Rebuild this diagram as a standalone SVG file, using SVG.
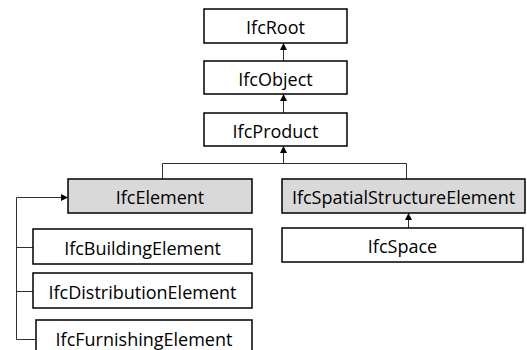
<svg xmlns="http://www.w3.org/2000/svg" width="527" height="350" viewBox="0 0 527 350">
  <style>
    .box { fill: #ffffff; stroke: #000000; stroke-width: 1.5; }
    .abstract { fill: #d9d9d9; }
    .label { font-family: "Open Sans", "Noto Sans", sans-serif; font-size: 18px; fill: #000000; text-anchor: middle; dominant-baseline: central; }
    .link { fill: none; stroke: #303030; stroke-width: 1; }
  </style>
  <defs>
    <marker id="arrow" viewBox="0 0 8 8" refX="8" refY="4" markerWidth="7" markerHeight="7" orient="auto" markerUnits="userSpaceOnUse">
      <path d="M0,0 L8,4 L0,8 Z" fill="#000000"/>
    </marker>
  </defs>

  <g id="connectors">
    <line class="link" x1="283.5" y1="61" x2="283.5" y2="43" marker-end="url(#arrow)"/>
    <line class="link" x1="283.5" y1="113" x2="283.5" y2="94" marker-end="url(#arrow)"/>
    <line class="link" x1="283.5" y1="163.5" x2="283.5" y2="146" marker-end="url(#arrow)"/>
    <polyline class="link" points="162.5,179 162.5,163.5 406.5,163.5 406.5,179"/>
    <line class="link" x1="408.5" y1="228" x2="408.5" y2="213" marker-end="url(#arrow)"/>
    <polyline class="link" points="36,339.5 16.5,339.5 16.5,197.5 68,197.5" marker-end="url(#arrow)"/>
    <line class="link" x1="16.5" y1="247.5" x2="33" y2="247.5"/>
    <line class="link" x1="16.5" y1="291.5" x2="33" y2="291.5"/>
  </g>

  <g id="IfcRoot">
    <rect class="box" x="204" y="9" width="143" height="34"/>
    <text class="label" x="275.5" y="27">IfcRoot</text>
  </g>
  <g id="IfcObject">
    <rect class="box" x="204" y="61" width="143" height="33"/>
    <text class="label" x="275.5" y="78.5">IfcObject</text>
  </g>
  <g id="IfcProduct">
    <rect class="box" x="204" y="113" width="143" height="33"/>
    <text class="label" x="275.5" y="130.5">IfcProduct</text>
  </g>
  <g id="IfcElement">
    <rect class="box abstract" x="68" y="179" width="184" height="34"/>
    <text class="label" x="160" y="197">IfcElement</text>
  </g>
  <g id="IfcSpatialStructureElement">
    <rect class="box abstract" x="282" y="179" width="243" height="34"/>
    <text class="label" x="403.5" y="197">IfcSpatialStructureElement</text>
  </g>
  <g id="IfcSpace">
    <rect class="box" x="282" y="228" width="241" height="34"/>
    <text class="label" x="402.5" y="246">IfcSpace</text>
  </g>
  <g id="IfcBuildingElement">
    <rect class="box" x="33" y="229" width="219" height="35"/>
    <text class="label" x="142.5" y="247.5">IfcBuildingElement</text>
  </g>
  <g id="IfcDistributionElement">
    <rect class="box" x="33" y="273" width="219" height="35"/>
    <text class="label" x="142.5" y="291.5">IfcDistributionElement</text>
  </g>
  <g id="IfcFurnishingElement">
    <rect class="box" x="36" y="320" width="216" height="36"/>
    <text class="label" x="144" y="339">IfcFurnishingElement</text>
  </g>
</svg>
